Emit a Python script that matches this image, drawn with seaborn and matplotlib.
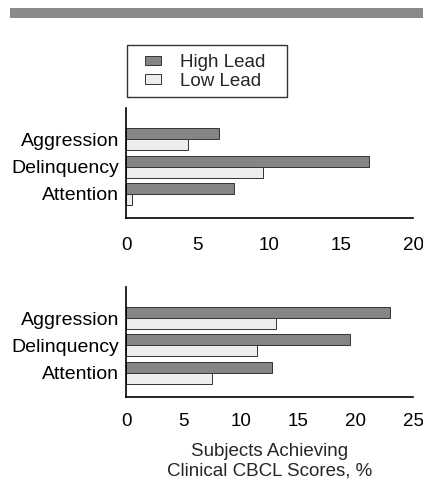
import matplotlib
matplotlib.use("Agg")
import matplotlib.pyplot as plt
import seaborn as sns
import pandas as pd
from matplotlib.patches import Rectangle

categories = ["Aggression", "Delinquency", "Attention"]
groups = ["High Lead", "Low Lead"]
top_high = [6.5, 16.9, 7.5]
top_low = [4.3, 9.55, 0.4]
bot_high = [23.0, 19.5, 12.7]
bot_low = [13.1, 11.4, 7.5]
top_ticks = [0, 5, 10, 15, 20]
bot_ticks = [0, 5, 10, 15, 20, 25]
xlabel = "Subjects Achieving\nClinical CBCL Scores, %"

def make_df(high, low):
    rows = []
    for c, h, l in zip(categories, high, low):
        rows.append({"cat": c, "grp": groups[0], "val": h})
        rows.append({"cat": c, "grp": groups[1], "val": l})
    return pd.DataFrame(rows)

sns.set_style("white")
plt.rcParams["font.family"] = ["Liberation Sans", "DejaVu Sans"]

fig = plt.figure(figsize=(4.23, 4.83), dpi=100)
L, R = 126.0, 413.0
ax1 = fig.add_axes([L / 423, 1 - 218 / 483, (R - L) / 423, 110 / 483])
ax2 = fig.add_axes([L / 423, 1 - 396.7 / 483, (R - L) / 423, 110 / 483])

palette = {"High Lead": "#858585", "Low Lead": "#ededed"}

for ax, high, low, ticks in [(ax1, top_high, top_low, top_ticks),
                             (ax2, bot_high, bot_low, bot_ticks)]:
    df = make_df(high, low)
    sns.barplot(data=df, y="cat", x="val", hue="grp", hue_order=groups,
                order=categories, palette=palette, orient="h", ax=ax,
                width=0.8, legend=(ax is ax1), saturation=1)
    for p in ax.patches:
        p.set_edgecolor("#333333")
        p.set_linewidth(0.7)
    ax.set_xlim(0, ticks[-1])
    ax.set_ylim(2.88, -1.15)
    ax.set_xticks(ticks)
    ax.set_ylabel("")
    ax.set_xlabel("")
    for s in ["top", "right"]:
        ax.spines[s].set_visible(False)
    for s in ["left", "bottom"]:
        ax.spines[s].set_color("black")
        ax.spines[s].set_linewidth(1.2)
    ax.tick_params(axis="y", length=0, pad=5, labelsize=14, colors="black")
    ax.tick_params(axis="x", labelsize=13.5, colors="black", width=1.0)

ax1.tick_params(axis="x", direction="in", length=5, pad=14)
ax2.tick_params(axis="x", direction="out", length=4, pad=8)
ax2.set_xlabel(xlabel, fontsize=13.5, labelpad=9, linespacing=1.22)

handles, labels = ax1.get_legend_handles_labels()
ax1.get_legend().remove()
leg = fig.legend(handles, labels, loc="upper left",
                 bbox_to_anchor=(145 / 423, 1 - 54 / 483),
                 frameon=False, fontsize=13.5, handlelength=0.85, handleheight=0.4,
                 borderpad=0, labelspacing=0.08, handletextpad=1.0,
                 borderaxespad=0)

fig.patches.append(Rectangle((127 / 423, 1 - 97 / 483), 160 / 423, 52 / 483,
                             transform=fig.transFigure, facecolor="none",
                             edgecolor="#333333", linewidth=1.0))
fig.patches.append(Rectangle((10 / 423, 1 - 18 / 483), 1 - 10 / 423, 10 / 483,
                             transform=fig.transFigure, facecolor="#8a8a8a",
                             edgecolor="none"))

fig.savefig("out.png", dpi=100)
